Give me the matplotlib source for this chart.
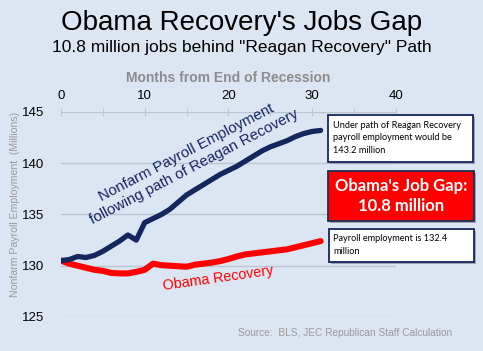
import numpy as np
import matplotlib.pyplot as plt

plt.rcParams['font.family'] = ['Liberation Sans', 'DejaVu Sans']

# data
months = list(range(32))
reagan = [130.5, 130.6, 130.9, 130.8, 131.0, 131.4, 131.9, 132.4, 133.0, 132.5,
          134.2, 134.6, 135.0, 135.5, 136.2, 136.9, 137.4, 137.9, 138.4, 138.9,
          139.3, 139.7, 140.2, 140.7, 141.2, 141.6, 141.9, 142.2, 142.6, 142.9,
          143.1, 143.2]
obama = [130.5, 130.2, 130.0, 129.8, 129.6, 129.5, 129.3, 129.25, 129.25, 129.4,
         129.6, 130.2, 130.05, 130.0, 129.95, 129.9, 130.1, 130.2, 130.3, 130.45,
         130.65, 130.9, 131.1, 131.2, 131.3, 131.4, 131.5, 131.6, 131.8, 132.0,
         132.2, 132.4]
x_ticks = [0, 10, 20, 30, 40]
y_ticks = [125, 130, 135, 140, 145]

bg = '#dce6f2'
navy = '#15265e'
red = '#ff0000'
grid_c = '#bcc5d1'

fig = plt.figure(figsize=(4.83, 3.51), dpi=100, facecolor=bg)
ax = fig.add_axes([0.126, 0.097, 0.694, 0.584])
ax.set_facecolor(bg)

ax.plot(months, obama, color=red, lw=4.4, solid_capstyle='round', zorder=3)
ax.plot(months, reagan, color=navy, lw=3.8, solid_capstyle='round', zorder=4)

ax.set_xlim(0, 40)
ax.set_ylim(125, 145)
ax.set_yticks(y_ticks)
ax.set_xticks(x_ticks)
ax.set_xticks(np.arange(5, 40, 10), minor=True)
ax.xaxis.tick_top()
ax.xaxis.set_label_position('top')
ax.tick_params(axis='x', which='both', direction='inout', length=6, color=grid_c,
               labelsize=9.5, pad=4)
ax.tick_params(axis='y', length=0, labelsize=9.5, pad=12)
for s in ax.spines.values():
    s.set_visible(False)
ax.grid(axis='y', color=grid_c, lw=1)

ax.set_xlabel('Months from End of Recession', color='#8c8c8c', fontweight='bold',
              fontsize=10, labelpad=6)
ax.set_ylabel('Nonfarm Payroll Employment  (Millions)', color='#9a9a9a', fontsize=7.6)
ax.yaxis.set_label_coords(-0.122, 0.55)

fig.text(0.5, 0.935, "Obama Recovery's Jobs Gap", ha='center', va='center', fontsize=20)
fig.text(0.5, 0.865, '10.8 million jobs behind "Reagan Recovery" Path', ha='center',
         va='center', fontsize=12.5)
fig.text(0.936, 0.05, 'Source:  BLS, JEC Republican Staff Calculation', ha='right',
         va='center', fontsize=7.3, color='#9a9a9a')

ax.text(15.4, 140.3, 'Nonfarm Payroll Employment\nfollowing path of Reagan Recovery',
        color=navy, fontsize=10.8, rotation=27.5, ha='center', va='center',
        linespacing=1.22, zorder=5)
ax.text(18.8, 128.75, 'Obama Recovery', color=red, fontsize=10.3, rotation=8,
        ha='center', va='center', zorder=5)

# annotation boxes (figure pixel coords -> figure fraction)
W, H = 483.0, 351.0
def box(x0, y0, x1, y1, fc, ec):
    r = plt.Rectangle(((x0 + 2) / W, 1 - (y1 + 2) / H), (x1 - x0) / W, (y1 - y0) / H,
                      transform=fig.transFigure, fc='#9aa4b4', ec='none', zorder=5)
    fig.add_artist(r)
    r = plt.Rectangle((x0 / W, 1 - y1 / H), (x1 - x0) / W, (y1 - y0) / H,
                      transform=fig.transFigure, fc=fc, ec=ec, lw=1.3, zorder=6)
    fig.add_artist(r)

box(328, 115, 473, 162, 'white', navy)
box(328, 171, 474, 221, red, '#1f2d50')
box(329, 229, 474, 262, 'white', navy)

fig.text(333 / W, 1 - 138 / H, 'Under path of Reagan Recovery\npayroll employment would be\n143.2 million',
         ha='left', va='center', fontsize=6.6, family=['Lato', 'DejaVu Sans'],
         linespacing=1.45, zorder=7)
fig.text(401 / W, 1 - 196 / H, "Obama's Job Gap:\n10.8 million", ha='center', va='center',
         fontsize=12, color='white', fontweight='bold', family=['Lato', 'DejaVu Sans'],
         linespacing=1.3, zorder=7)
fig.text(333 / W, 1 - 245 / H, 'Payroll employment is 132.4\nmillion', ha='left',
         va='center', fontsize=6.6, family=['Lato', 'DejaVu Sans'], linespacing=1.45, zorder=7)

fig.savefig('out.png', dpi=100, facecolor=bg)
